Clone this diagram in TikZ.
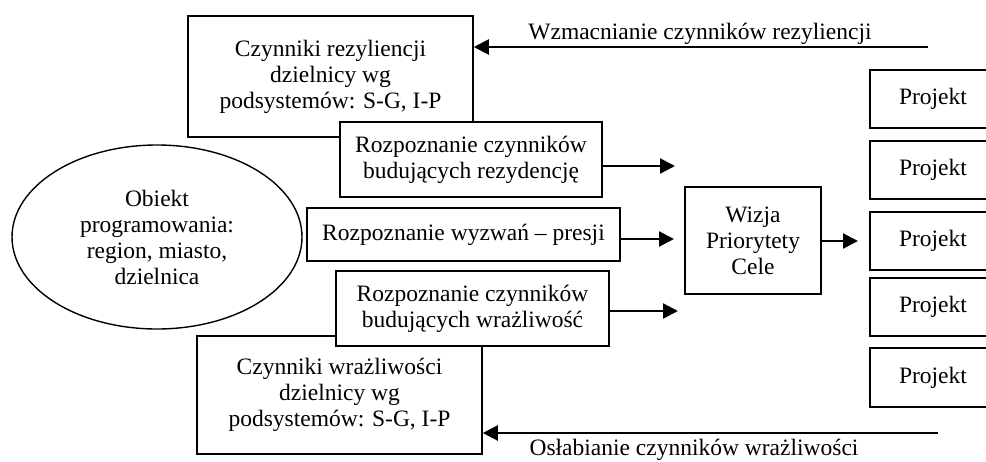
\documentclass[tikz,border=0pt]{standalone}
\usepackage{fontspec}
\setmainfont{Liberation Serif}
\usetikzlibrary{arrows.meta,shapes.geometric}
\begin{document}
\begin{tikzpicture}[x=1pt,y=-1pt,
  txt/.style={font=\fontsize{23.5}{26}\selectfont, align=center, inner sep=0pt},
  box/.style={txt, draw, line width=1.6pt, fill=white},
  arr/.style={line width=2.2pt, -{Triangle[length=15pt,width=15pt]}}]
\useasboundingbox (0,0) rectangle (986,461);
\clip (0,0) rectangle (986,461);
% ellipse
\node[txt, draw, line width=1.4pt, ellipse, minimum width=290pt, minimum height=184pt] (obj) at (157,237) {Obiekt\\programowania:\\region, miasto,\\dzielnica};
% top and bottom factor boxes
\node[box, minimum width=285pt, minimum height=121pt] (A) at (330.5,76.5) {Czynniki rezyliencji\\dzielnicy wg\\podsystemów: S-G, I-P};
\node[box, minimum width=285pt, minimum height=118pt] (E) at (339.5,395) {Czynniki wrażliwości\\dzielnicy wg\\podsystemów: S-G, I-P};
% recognition boxes
\node[box, minimum width=262pt, minimum height=75pt] (B) at (471,159.5) {Rozpoznanie czynników\\budujących rezydencję};
\node[box, minimum width=313pt, minimum height=53pt] (C) at (463.5,234.5) {Rozpoznanie wyzwań -- presji};
\node[box, minimum width=273pt, minimum height=75pt] (D) at (472.5,308.5) {Rozpoznanie czynników\\budujących wrażliwość};
% vision box
\node[box, minimum width=136pt, minimum height=107pt] (W) at (753,240.5) {Wizja\\Priorytety\\Cele};
% project boxes
\node[box, minimum width=126pt, minimum height=58pt] (P1) at (933,99) {Projekt};
\node[box, minimum width=126pt, minimum height=58pt] (P2) at (933,170) {Projekt};
\node[box, minimum width=126pt, minimum height=58pt] (P3) at (933,241) {Projekt};
\node[box, minimum width=126pt, minimum height=58pt] (P4) at (933,307) {Projekt};
\node[box, minimum width=126pt, minimum height=59pt] (P5) at (933,377.5) {Projekt};
% free ends
\coordinate (bEnd) at (675,166);
\coordinate (cEnd) at (674,239);
\coordinate (dEnd) at (678,311);
\coordinate (topStart) at (928,47);
\coordinate (botStart) at (938,433);
% arrows
\draw[arr] (B.east |- bEnd) -- (bEnd);
\draw[arr] (C.east |- cEnd) -- (cEnd);
\draw[arr] (D.east |- dEnd) -- (dEnd);
\draw[arr] (W.east |- P3) -- (P3.west -| 858,0);
\draw[arr] (topStart) -- (A.east |- topStart);
\draw[arr] (botStart) -- (E.east |- botStart);
% labels
\node[txt, anchor=base] (lt) at (700,39) {Wzmacnianie czynników rezyliencji};
\node[txt, anchor=base] (lb) at (694,455.5) {Osłabianie czynników wrażliwości};
\end{tikzpicture}
\end{document}
